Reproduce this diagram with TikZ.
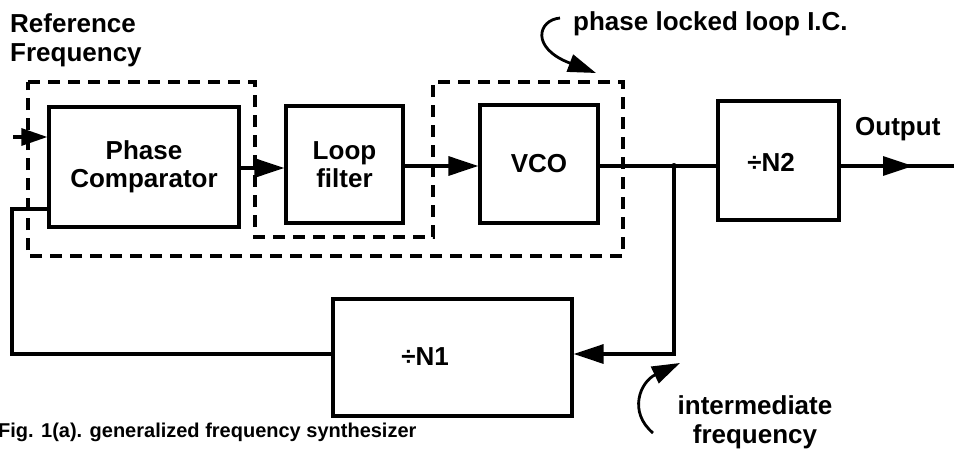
\documentclass[tikz,border=0pt]{standalone}
\usepackage{fontspec}
\setmainfont{Liberation Sans}
\usetikzlibrary{arrows.meta}
\begin{document}
\begin{tikzpicture}[x=1pt,y=-1pt,
  box/.style={draw,line width=3.2pt,rectangle,inner sep=0pt,align=center,
    font=\fontsize{26}{28}\selectfont\bfseries},
  lbl/.style={inner sep=0pt,font=\fontsize{26}{28.5}\selectfont\bfseries},
  conn/.style={line width=3.2pt},
  arr/.style={conn,-{Triangle[length=30pt,width=19pt]}},
  arrs/.style={conn,-{Triangle[length=26pt,width=17pt]}},
  curv/.style={line width=2.8pt,-{Triangle[length=28pt,width=18pt]}},
  dbox/.style={line width=3.4pt,dash pattern=on 12pt off 8pt}]
\useasboundingbox[fill=white] (0,0) rectangle (954,450);

% blocks
\node[box,minimum width=190pt,minimum height=120pt] (pc) at (144,167) {Phase\\Comparator};
\node[box,minimum width=117pt,minimum height=117pt] (lf) at (344.5,164.5) {Loop\\filter};
\node[box,minimum width=118pt,minimum height=118pt] (vco) at (539,164) {VCO};
\node[box,minimum width=121pt,minimum height=119pt] (n2) at (778.5,160.5) {};
\node[lbl] (n2t) at (771,162) {÷N2};
\node[box,minimum width=239pt,minimum height=117pt] (n1) at (452.5,357.5) {};
\node[lbl] (n1t) at (425,357) {÷N1};

% dashed PLL outline
\draw[dbox] (28,82) -- (255,82) -- (255,237) -- (433,237) -- (433,82) -- (623,82)
  -- (623,256) -- (28,256) -- cycle;

% coordinates
\coordinate (in) at (13,137);
\coordinate (sig) at (0,166);
\coordinate (j) at (674,166);
\coordinate (jb) at (674,354);
\coordinate (fbl) at (12,354);
\coordinate (fbt) at (12,209);
\coordinate (otip) at (913,166);
\coordinate (oe) at (954,166);

% connectors
\draw[arrs] (in) -- (in -| pc.west);
\draw[arr] (pc.east |- 0,168) -- (lf.west |- 0,168);
\draw[arr] (lf.east |- sig) -- (vco.west |- sig);
\draw[conn] (vco.east |- sig) -- (n2.west |- sig);
\fill (j) circle (3pt);
\draw[arr] (j) -- (jb) -- (jb -| n1.east);
\draw[conn] (n1.west |- fbl) -- (fbl) -- (fbt) -- (fbt -| pc.west);
\draw[conn] (n2.east |- sig) -- (oe);
\draw[arr] (n2.east |- sig) -- (otip);

% labels
\node[lbl,anchor=base west,align=left] (ref) at (10,61) {Reference\\Frequency};
\node[lbl,anchor=base west] (pll) at (573,30) {phase locked loop I.C.};
\node[lbl,anchor=base west] (out) at (855,135) {Output};
\node[lbl,anchor=base,align=center] (imf) at (755,443) {intermediate\\frequency};
\node[inner sep=0pt,anchor=base west,font=\fontsize{20}{22}\selectfont\bfseries] (cap) at (-2,437)
  {Fig. 1(a). generalized frequency synthesizer};

% pointer arrows
\coordinate (ps) at (560,18);
\coordinate (pt) at (596,73);
\draw[curv] (ps) .. controls (538,20) and (530,48) .. (pt);
\coordinate (is) at (653,433);
\coordinate (it) at (680,363);
\draw[curv] (is) .. controls (628,412) and (640,382) .. (it);
\end{tikzpicture}
\end{document}
